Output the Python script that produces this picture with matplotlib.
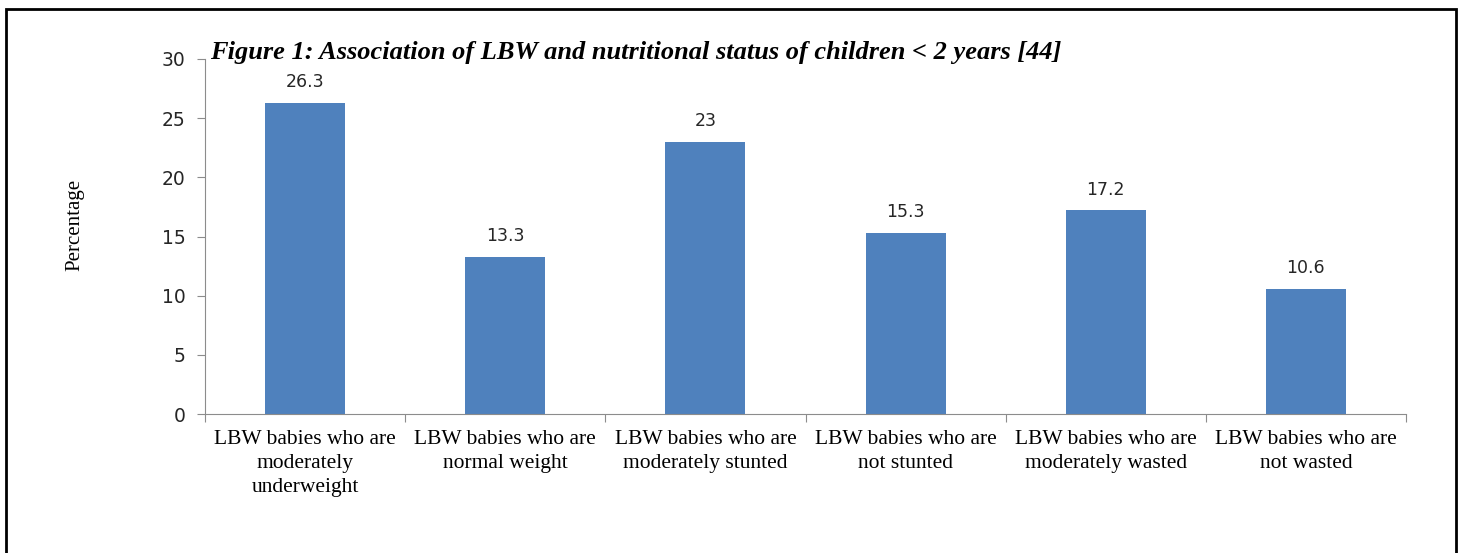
import matplotlib
matplotlib.use('Agg')
import matplotlib.pyplot as plt
from matplotlib.patches import Rectangle
import numpy as np

# Chart data
categories = [
    'LBW babies who are\nmoderately\nunderweight',
    'LBW babies who are\nnormal weight',
    'LBW babies who are\nmoderately stunted',
    'LBW babies who are\nnot stunted',
    'LBW babies who are\nmoderately wasted',
    'LBW babies who are\nnot wasted',
]
values = [26.3, 13.3, 23, 15.3, 17.2, 10.6]
value_labels = ['26.3', '13.3', '23', '15.3', '17.2', '10.6']
yticks = [0, 5, 10, 15, 20, 25, 30]

title = 'Figure 1: Association of LBW and nutritional status of children < 2 years [44]'

fig = plt.figure(figsize=(14.61, 5.53), dpi=100)
ax = fig.add_axes([205 / 1461, 1 - 414 / 553, 1201 / 1461, 355 / 553])

x = np.arange(len(categories))
ax.bar(x, values, width=0.4, color='#4F81BD')

for xi, v, lab in zip(x, values, value_labels):
    ax.text(xi, v + 1.0, lab, ha='center', va='bottom', fontsize=12.5,
            family='DejaVu Sans', color='#262626')

ax.set_xlim(-0.5, len(categories) - 0.5)
ax.set_ylim(0, 30)
ax.set_yticks(yticks)
ax.set_yticklabels([str(t) for t in yticks], fontsize=13.5, family='DejaVu Sans', color='#262626')

# category ticks sit on the boundaries
ax.set_xticks(np.arange(len(categories) + 1) - 0.5)
ax.set_xticklabels([])
ax.tick_params(axis='x', length=6, color='#8C8C8C', direction='out')
ax.tick_params(axis='y', length=6, color='#8C8C8C', direction='out', pad=8)
for xi, lab in zip(x, categories):
    ax.text(xi, -0.045, lab, transform=ax.get_xaxis_transform(), ha='center', va='top',
            fontsize=15.5, family='Liberation Serif', color='black', linespacing=1.35)

for s in ['top', 'right']:
    ax.spines[s].set_visible(False)
for s in ['left', 'bottom']:
    ax.spines[s].set_color('#8C8C8C')

fig.text(75 / 1461, 1 - 225 / 553, 'Percentage', rotation=90, ha='center', va='center',
         fontsize=15, family='Liberation Serif')
fig.text(210 / 1461, 1 - 52 / 553, title, ha='left', va='center', fontsize=19,
         family='Liberation Serif', fontweight='bold', fontstyle='italic')

# page border
fig.patches.append(Rectangle((6 / 1461, -0.1), 1450 / 1461, 1.1 - 9 / 553,
                             transform=fig.transFigure, fill=False, edgecolor='black',
                             linewidth=2))

fig.savefig('out.png', dpi=100)
